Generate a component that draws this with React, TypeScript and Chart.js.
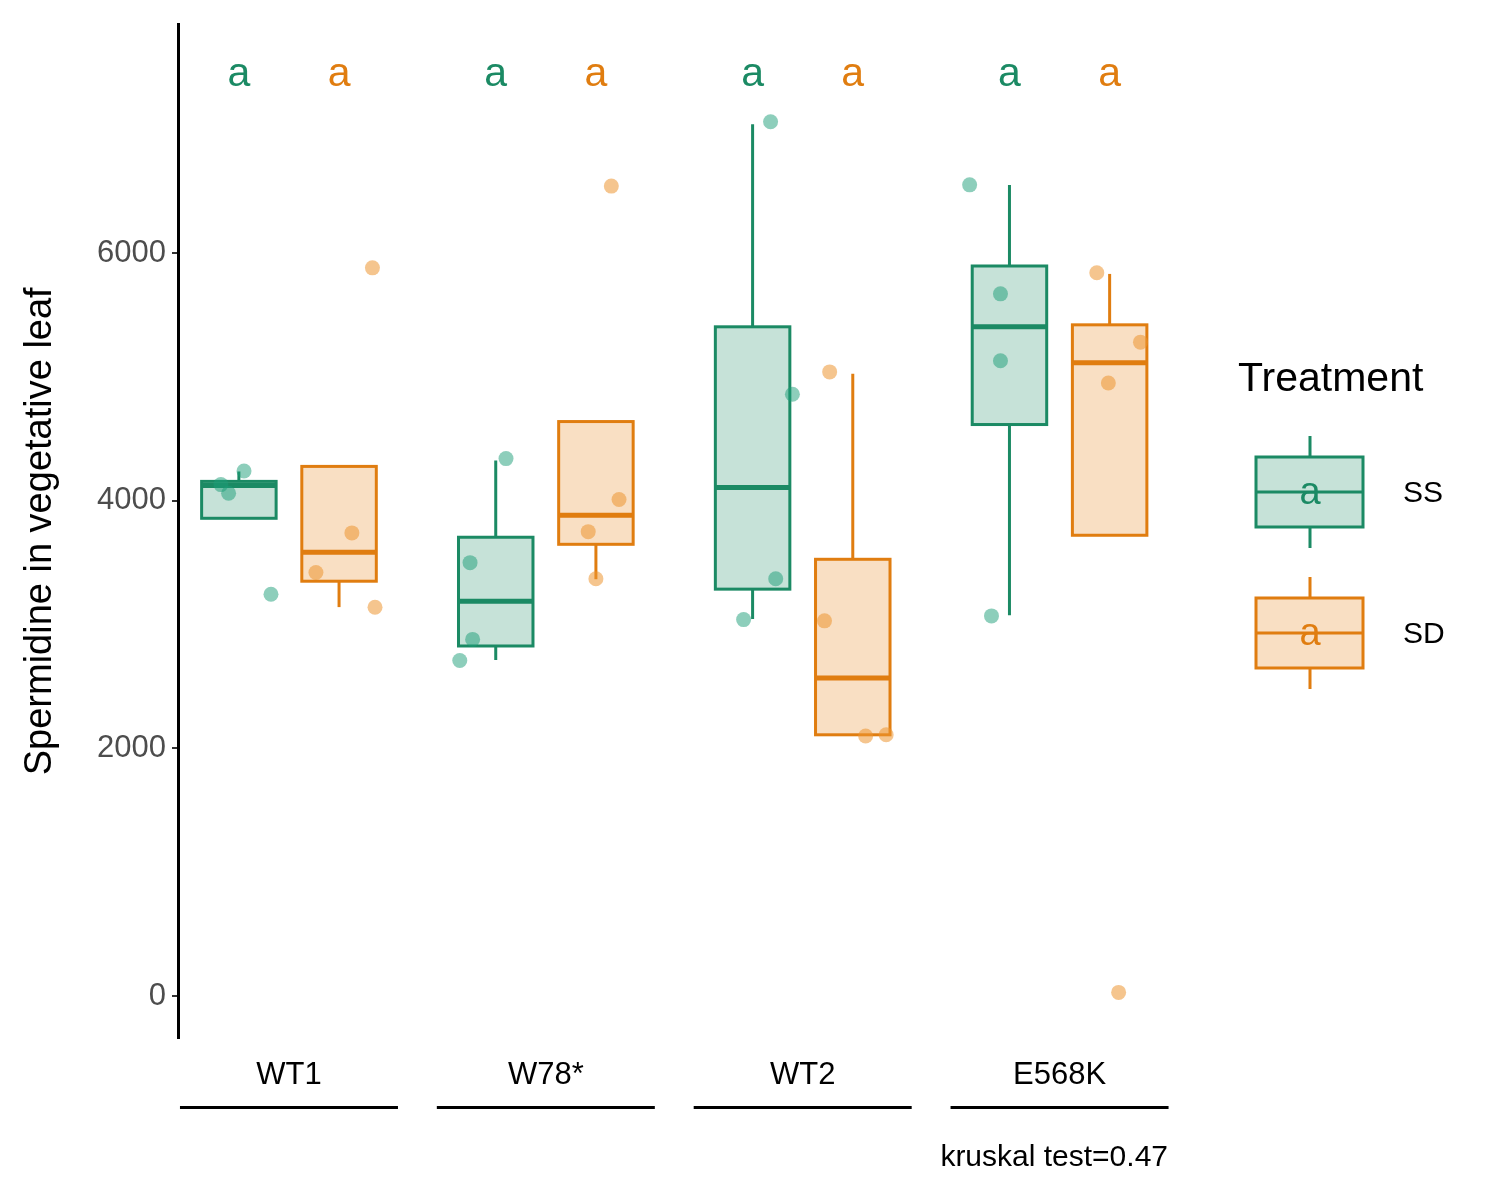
import React, { useEffect, useRef } from "react";
import { Chart, registerables } from "chart.js";
Chart.register(...registerables);

const categories = ["WT1", "W78*", "WT2", "E568K"];
const treatments = ["SS", "SD"];
// [min, q1, median, q3, max]
const boxSS = [
  [3858, 3858, 4123, 4156, 4236],
  [2714, 2827, 3189, 3705, 4325],
  [3044, 3286, 4107, 5404, 7039],
  [3076, 4615, 5404, 5895, 6548],
];
const boxSD = [
  [3141, 3350, 3584, 4277, 4277],
  [3366, 3648, 3882, 4639, 4639],
  [2110, 2110, 2569, 3527, 5025],
  [3721, 3721, 5114, 5420, 5831],
];
const pointsSS = [
  [4130, 4060, 4240, 3245],
  [4340, 3500, 2880, 2710],
  [7060, 4860, 3370, 3040],
  [6550, 5670, 5130, 3070],
];
const jitterSS = [
  [-0.07, -0.04, 0.02, 0.125],
  [0.04, -0.1, -0.09, -0.14],
  [0.07, 0.155, 0.09, -0.035],
  [-0.155, -0.035, -0.035, -0.07],
];
const pointsSD = [
  [5880, 3740, 3420, 3140],
  [6540, 4010, 3750, 3370],
  [5040, 3030, 2100, 2110],
  [5840, 5280, 4950, 30],
];
const jitterSD = [
  [0.13, 0.05, -0.09, 0.14],
  [0.06, 0.09, -0.03, 0.0],
  [-0.09, -0.11, 0.05, 0.13],
  [-0.05, 0.12, -0.005, 0.035],
];
const letters = ["a", "a", "a", "a"];
const yTicks = [0, 2000, 4000, 6000];
const kruskalText = "kruskal test=0.47";

const GREEN = "#1b8a64";
const ORANGE = "#e07d10";
const GREEN_PT = "rgba(27,158,119,0.5)";
const ORANGE_PT = "rgba(236,150,50,0.55)";
const GREEN_FILL = "rgba(27,138,100,0.25)";
const ORANGE_FILL = "rgba(232,140,40,0.28)";
const OFF = 0.195;
const HALF = 0.145;
const FONT = "'Liberation Sans', Arial, sans-serif";

const boxPlugin = {
  id: "boxes",
  beforeDatasetsDraw(chart: any) {
    const { ctx, scales } = chart;
    const x = scales.x, y = scales.y;
    const draw = (b: number[], cx: number, stroke: string, fill: string) => {
      const l = x.getPixelForValue(cx - HALF), r = x.getPixelForValue(cx + HALF);
      const m = x.getPixelForValue(cx);
      const [mn, q1, md, q3, mx] = b.map((v) => y.getPixelForValue(v));
      ctx.save();
      ctx.strokeStyle = stroke;
      ctx.lineWidth = 3;
      ctx.beginPath();
      ctx.moveTo(m, q3); ctx.lineTo(m, mx);
      ctx.moveTo(m, q1); ctx.lineTo(m, mn);
      ctx.stroke();
      ctx.fillStyle = fill;
      ctx.fillRect(l, q3, r - l, q1 - q3);
      ctx.strokeRect(l, q3, r - l, q1 - q3);
      ctx.lineWidth = 5;
      ctx.beginPath(); ctx.moveTo(l, md); ctx.lineTo(r, md); ctx.stroke();
      ctx.restore();
    };
    categories.forEach((_, i) => {
      draw(boxSS[i], i - OFF, GREEN, GREEN_FILL);
      draw(boxSD[i], i + OFF, ORANGE, ORANGE_FILL);
    });
  },
  afterDraw(chart: any) {
    const { ctx, scales } = chart;
    const x = scales.x, y = scales.y;
    ctx.save();
    ctx.textAlign = "center";
    ctx.textBaseline = "middle";
    ctx.font = `41px ${FONT}`;
    categories.forEach((_, i) => {
      ctx.fillStyle = GREEN;
      ctx.fillText(letters[i], x.getPixelForValue(i - OFF), y.getPixelForValue(7440));
      ctx.fillStyle = ORANGE;
      ctx.fillText(letters[i], x.getPixelForValue(i + OFF), y.getPixelForValue(7440));
    });
    ctx.fillStyle = "#000";
    ctx.font = `31px ${FONT}`;
    categories.forEach((c, i) => {
      const cx = x.getPixelForValue(i);
      ctx.fillText(c, cx, 1075);
      ctx.fillRect(cx - 109, 1106, 218, 3);
    });
    ctx.textAlign = "right";
    ctx.font = `30px ${FONT}`;
    ctx.fillText(kruskalText, 1168, 1158);
    // legend
    ctx.textAlign = "left";
    ctx.font = `41px ${FONT}`;
    ctx.fillText("Treatment", 1238, 380);
    const key = (top: number, stroke: string, fill: string, label: string) => {
      const l = 1256, r = 1363, m = 1310, bot = top + 70, md = top + 35;
      ctx.strokeStyle = stroke; ctx.lineWidth = 3;
      ctx.beginPath();
      ctx.moveTo(m, top - 21); ctx.lineTo(m, top);
      ctx.moveTo(m, bot); ctx.lineTo(m, bot + 21);
      ctx.stroke();
      ctx.fillStyle = fill; ctx.fillRect(l, top, r - l, 70);
      ctx.strokeRect(l, top, r - l, 70);
      ctx.beginPath(); ctx.moveTo(l, md); ctx.lineTo(r, md); ctx.stroke();
      ctx.fillStyle = stroke; ctx.textAlign = "center"; ctx.font = `38px ${FONT}`;
      ctx.fillText("a", m, md + 2);
      ctx.fillStyle = "#000"; ctx.textAlign = "left"; ctx.font = `30px ${FONT}`;
      ctx.fillText(label, 1403, md + 2);
    };
    key(457, GREEN, GREEN_FILL, treatments[0]);
    key(598, ORANGE, ORANGE_FILL, treatments[1]);
    ctx.restore();
  },
};

export default function App() {
  const ref = useRef<HTMLCanvasElement>(null);
  useEffect(() => {
    const mk = (vals: number[][], jit: number[][], off: number) =>
      vals.flatMap((g, i) => g.map((v, j) => ({ x: i + off + jit[i][j], y: v })));
    const chart = new Chart(ref.current!, {
      type: "scatter",
      data: {
        datasets: [
          { data: mk(pointsSS, jitterSS, -OFF), backgroundColor: GREEN_PT, borderWidth: 0, pointRadius: 7.5 },
          { data: mk(pointsSD, jitterSD, OFF), backgroundColor: ORANGE_PT, borderWidth: 0, pointRadius: 7.5 },
        ],
      },
      options: {
        animation: false,
        responsive: false,
        layout: { padding: { left: 0, top: 22, right: 330, bottom: 162 } },
        plugins: { legend: { display: false }, tooltip: { enabled: false } },
        scales: {
          x: { type: "linear", min: -0.432, max: 3.43, display: false },
          y: {
            min: -338, max: 7844,
            afterFit: (a: any) => { a.width = 178; },
            afterBuildTicks: (a: any) => { a.ticks = yTicks.map((v) => ({ value: v })); },
            border: { display: true, color: "#000", width: 3 },
            grid: { drawOnChartArea: false, drawTicks: true, tickLength: 6, color: "#333", lineWidth: 2 },
            ticks: { color: "#4d4d4d", font: { size: 31, family: FONT }, padding: 6, callback: (v: any) => String(v) },
            title: { display: true, text: "Spermidine in vegetative leaf", color: "#000", font: { size: 38, family: FONT }, padding: { top: 18, bottom: 0 } },
          },
        },
      },
      plugins: [boxPlugin],
    });
    return () => chart.destroy();
  }, []);
  return (
    <div style={{ position: "fixed", left: 0, top: 0, width: 1500, height: 1200, background: "#fff" }}>
      <canvas ref={ref} width={1500} height={1200} style={{ width: 1500, height: 1200 }} />
    </div>
  );
}
